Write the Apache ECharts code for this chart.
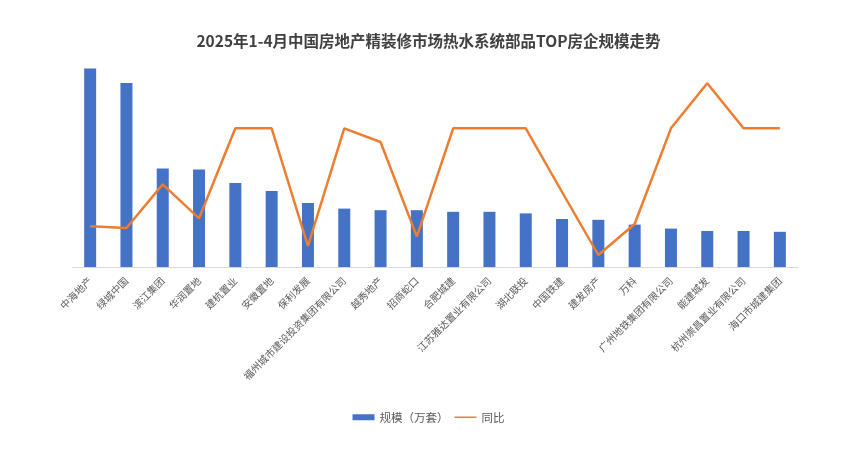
<!DOCTYPE html>
<html><head><meta charset="utf-8">
<script src="https://cdn.jsdelivr.net/npm/echarts@6/dist/echarts.min.js"></script>
<style>html,body{margin:0;padding:0;background:#fff}#c{width:857px;height:450px}</style>
</head><body><div id="c"></div>
<script>
var categories = ['中海地产','绿城中国','滨江集团','华润置地','建杭置业','安徽置地','保利发展','福州城市建设投资集团有限公司','越秀地产','招商蛇口','合肥城建','江苏雅达置业有限公司','湖北联投','中国铁建','建发房产','万科','广州地铁集团有限公司','能建城发','杭州崇昌置业有限公司','海口市城建集团'];
var scaleValues = [2.48,2.30,1.23,1.22,1.05,0.95,0.80,0.73,0.71,0.71,0.69,0.69,0.67,0.60,0.59,0.53,0.48,0.45,0.45,0.44];
var yoyValues = [-39,-41.5,24,-27,108,108,-68.5,108,87.5,-54.5,108,108,108,12.5,-82,-35.5,108,175.5,108,108];
var seriesNames = ['规模（万套）','同比'];
var titleText = '2025年1-4月中国房地产精装修市场热水系统部品TOP房企规模走势';

var chart = echarts.init(document.getElementById('c'));
var font = '"Noto Sans CJK SC", "Noto Sans", sans-serif';
chart.setOption({
  animation: false,
  textStyle: {fontFamily: font},
  title: {text: titleText, left: 'center', top: 28,
    textStyle: {fontSize: 15.5, fontWeight: 'bold', color: '#404040', fontFamily: font}},
  legend: {bottom: 22, left: 'center', itemGap: 6, itemWidth: 22, itemHeight: 6,
    textStyle: {fontSize: 11.5, color: '#595959', fontFamily: font},
    data: [{name: seriesNames[0], icon: 'rect'},
           {name: seriesNames[1], icon: 'path://M0,0 L0,0.01 M0,2.3 L22,2.3 L22,3.7 L0,3.7 Z M22,6 L22,5.99'}]},
  grid: {left: 72, right: 59, top: 67, bottom: 183, containLabel: false},
  xAxis: {type: 'category', data: categories, boundaryGap: true,
    axisLine: {lineStyle: {color: '#d9d9d9'}}, axisTick: {show: false},
    axisLabel: {rotate: 45, interval: 0, fontSize: 10, color: '#595959', margin: 12, fontFamily: font}},
  yAxis: [
    {type: 'value', min: 0, max: 2.5, show: false, splitLine: {show: false}},
    {type: 'value', min: -100, max: 200, show: false, splitLine: {show: false}}
  ],
  series: [
    {name: seriesNames[0], type: 'bar', data: scaleValues, barWidth: 12, yAxisIndex: 0,
      itemStyle: {color: '#4472C4'}},
    {name: seriesNames[1], type: 'line', data: yoyValues, yAxisIndex: 1, symbol: 'none',
      lineStyle: {color: '#ED7D31', width: 2.5}, itemStyle: {color: '#ED7D31'}}
  ]
});
</script></body></html>
